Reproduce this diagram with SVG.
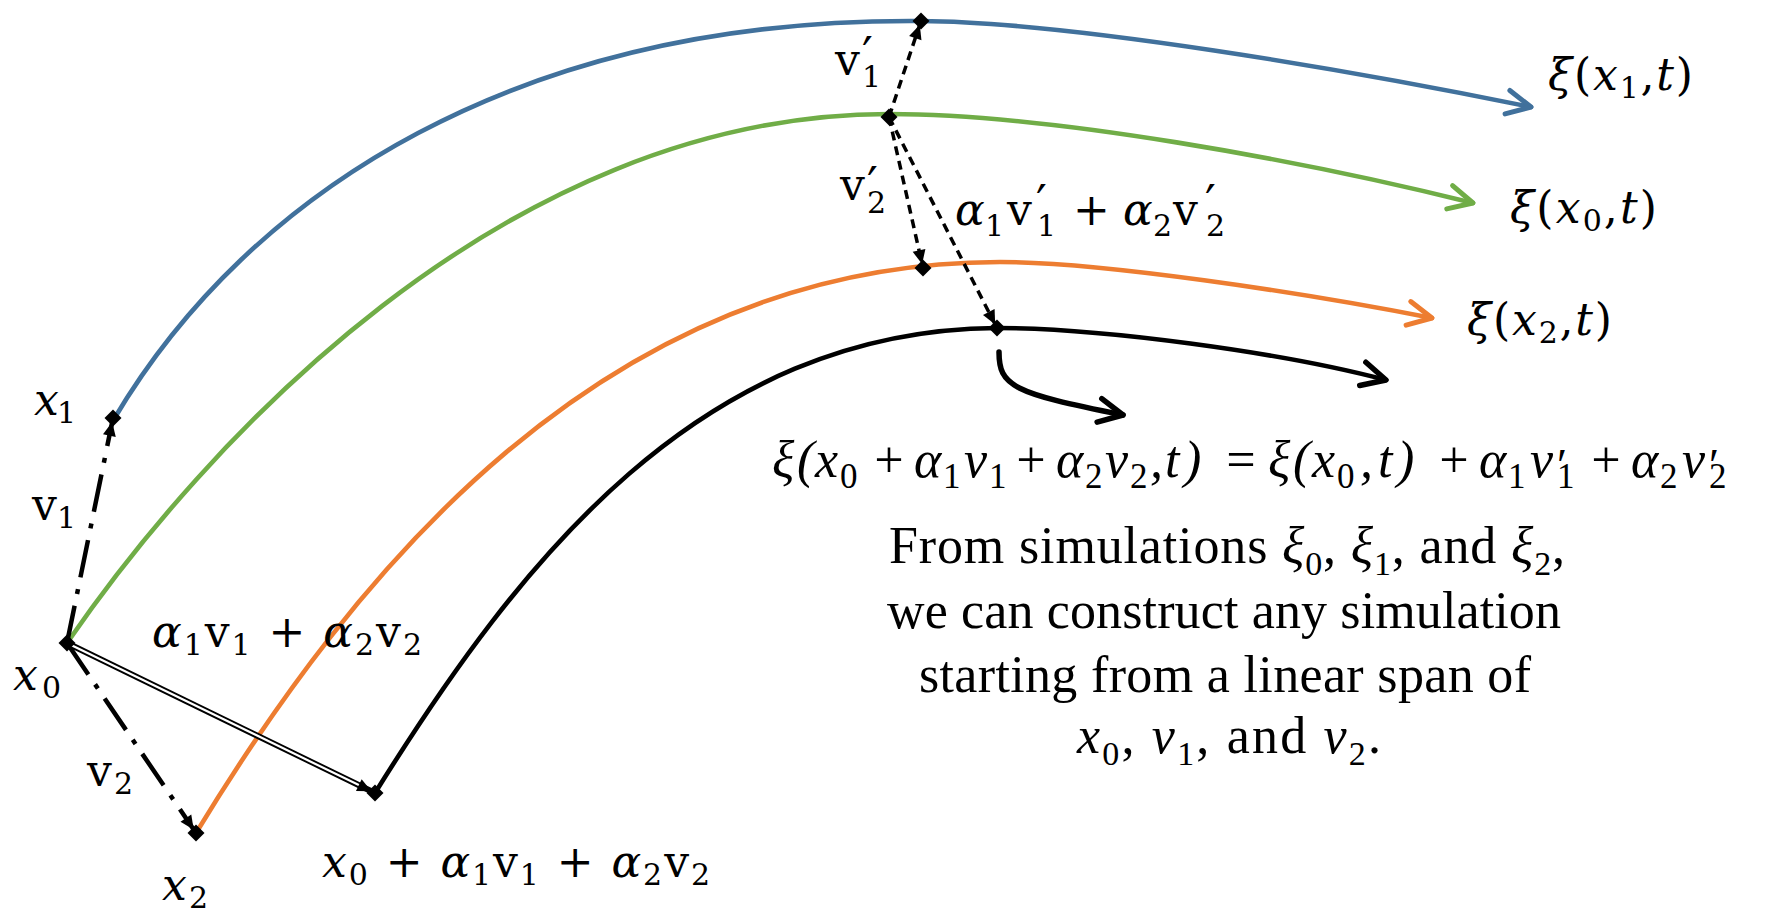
<svg xmlns="http://www.w3.org/2000/svg" width="1768" height="923" viewBox="0 0 1768 923">
<defs>
<style>
.m{font-family:"DejaVu Serif",serif;font-size:44px;fill:#000}
.i{font-style:italic}
.s{font-size:30px;font-style:normal}
.p{font-size:48px;font-style:normal}
.t{font-family:"Liberation Serif",serif;font-size:52px;fill:#000}
.ts{font-size:34px;font-style:normal}
.e{font-family:"Liberation Serif",serif;font-size:52px;font-style:italic;fill:#000}
.es{font-size:35px;font-style:normal}
.ep{font-size:46px;font-style:normal}
.traj{fill:none;stroke-width:4.6;stroke-linecap:round}
.dd{fill:none;stroke:#000;stroke-width:4.5;stroke-dasharray:38 12 5 12}
.da{fill:none;stroke:#000;stroke-width:3.5;stroke-dasharray:9 6}
</style>
<marker id="ab" viewBox="-30 -16 34 32" markerWidth="34" markerHeight="32" refX="0" refY="0" orient="auto" markerUnits="userSpaceOnUse"><path d="M-24,-12 L0,0 L-24,12" fill="none" stroke="#41719C" stroke-width="5" stroke-linecap="round" stroke-linejoin="round"/></marker>
<marker id="ag" viewBox="-30 -16 34 32" markerWidth="34" markerHeight="32" refX="0" refY="0" orient="auto" markerUnits="userSpaceOnUse"><path d="M-24,-12 L0,0 L-24,12" fill="none" stroke="#70AD47" stroke-width="5" stroke-linecap="round" stroke-linejoin="round"/></marker>
<marker id="ao" viewBox="-30 -16 34 32" markerWidth="34" markerHeight="32" refX="0" refY="0" orient="auto" markerUnits="userSpaceOnUse"><path d="M-24,-12 L0,0 L-24,12" fill="none" stroke="#ED7D31" stroke-width="5" stroke-linecap="round" stroke-linejoin="round"/></marker>
<marker id="ak" viewBox="-30 -16 34 32" markerWidth="34" markerHeight="32" refX="0" refY="0" orient="auto" markerUnits="userSpaceOnUse"><path d="M-24,-12 L0,0 L-24,12" fill="none" stroke="#000" stroke-width="5.5" stroke-linecap="round" stroke-linejoin="round"/></marker>
<marker id="tri" viewBox="-16 -8 24 16" markerWidth="24" markerHeight="16" refX="4" refY="0" orient="auto" markerUnits="userSpaceOnUse"><path d="M-14,-6.5 L0,0 L-14,6.5 Z" fill="#000"/></marker>
<path id="dia" d="M0,-8.5 L8.5,0 L0,8.5 L-8.5,0 Z" fill="#000"/>
</defs>
<rect width="1768" height="923" fill="#fff"/>

<g id="connectors">
  <path class="traj" stroke="#41719C" marker-end="url(#ab)" d="M114,419 C250,190 520,18 921,21 C1070,22 1350,70 1531,107"/>
  <path class="traj" stroke="#70AD47" marker-end="url(#ag)" d="M67,643 C200,450 500,114 889,114 C1050,114 1300,160 1473,203"/>
  <path class="traj" stroke="#ED7D31" marker-end="url(#ao)" d="M196,833 C350,580 600,262 1000,262 C1100,262 1300,292 1432,318"/>
  <path class="traj" stroke="#000" stroke-width="5" marker-end="url(#ak)" d="M375,793 C520,560 700,330 997,328 C1100,328 1280,352 1386,380"/>
  <path fill="none" stroke="#000" stroke-width="5.5" stroke-linecap="round" marker-end="url(#ak)" d="M999,352 C999,386 1012,393 1123,415"/>
  <path class="dd" marker-end="url(#tri)" d="M67,643 L113,418"/>
  <path class="dd" marker-end="url(#tri)" d="M67,643 L196,833"/>
  <path fill="none" stroke="#000" stroke-width="6" marker-end="url(#tri)" d="M67,643 L375,793"/>
  <path fill="none" stroke="#fff" stroke-width="2.2" d="M69,644 L358.8,785.1"/>
  <path class="da" marker-end="url(#tri)" d="M889,117 L921,21"/>
  <path class="da" marker-end="url(#tri)" d="M889,117 L923,268"/>
  <path class="da" marker-end="url(#tri)" d="M889,117 L997,328"/>
  <text class="m" x="32" y="520" textLength="44">v<tspan class="s" dy="8">1</tspan></text>
  <text class="m" x="87" y="786" textLength="46">v<tspan class="s" dy="8">2</tspan></text>
  <text class="m" x="152" y="647" textLength="270"><tspan class="i">α</tspan><tspan class="s" dy="8">1</tspan><tspan dy="-8">v</tspan><tspan class="s" dy="8">1</tspan><tspan dy="-8"> + </tspan><tspan class="i">α</tspan><tspan class="s" dy="8">2</tspan><tspan dy="-8">v</tspan><tspan class="s" dy="8">2</tspan></text>
  <text class="m"><tspan x="835" y="75">v</tspan><tspan class="p" x="862" y="72">′</tspan><tspan class="s" x="862" y="87">1</tspan></text>
  <text class="m"><tspan x="840" y="200">v</tspan><tspan class="p" x="867" y="202">′</tspan><tspan class="s" x="867" y="213">2</tspan></text>
  <text class="m"><tspan class="i" x="955" y="225">α</tspan><tspan class="s" x="985" y="236">1</tspan><tspan x="1007" y="225">v</tspan><tspan class="p" x="1036" y="220">′</tspan><tspan class="s" x="1037" y="236">1</tspan><tspan x="1073" y="225">+</tspan><tspan class="i" x="1123" y="225">α</tspan><tspan class="s" x="1153" y="236">2</tspan><tspan x="1173" y="225">v</tspan><tspan class="p" x="1205" y="220">′</tspan><tspan class="s" x="1206" y="236">2</tspan></text>
</g>

<g id="node-x1">
  <use href="#dia" x="113" y="418"/>
  <text class="m" x="34" y="415" textLength="42"><tspan class="i">x</tspan><tspan class="s" dy="8">1</tspan></text>
</g>
<g id="node-x0">
  <use href="#dia" x="67" y="643"/>
  <text class="m" x="13" y="690" textLength="48"><tspan class="i">x</tspan><tspan class="s" dy="8">0</tspan></text>
</g>
<g id="node-x2">
  <use href="#dia" x="196" y="833"/>
  <text class="m" x="162" y="900" textLength="46"><tspan class="i">x</tspan><tspan class="s" dy="8">2</tspan></text>
</g>
<g id="node-xsum">
  <use href="#dia" x="375" y="793"/>
  <text class="m" x="322" y="877" textLength="388"><tspan class="i">x</tspan><tspan class="s" dy="8">0</tspan><tspan dy="-8"> + </tspan><tspan class="i">α</tspan><tspan class="s" dy="8">1</tspan><tspan dy="-8">v</tspan><tspan class="s" dy="8">1</tspan><tspan dy="-8"> + </tspan><tspan class="i">α</tspan><tspan class="s" dy="8">2</tspan><tspan dy="-8">v</tspan><tspan class="s" dy="8">2</tspan></text>
</g>
<g id="node-blue-t">
  <use href="#dia" x="921" y="21"/>
</g>
<g id="node-green-t">
  <use href="#dia" x="889" y="117"/>
</g>
<g id="node-orange-t">
  <use href="#dia" x="923" y="268"/>
</g>
<g id="node-black-t">
  <use href="#dia" x="997" y="328"/>
</g>
<g id="label-xi1">
  <text class="m" x="1548" y="90" textLength="145"><tspan class="i">ξ</tspan>(<tspan class="i">x</tspan><tspan class="s" dy="8">1</tspan><tspan dy="-8">,</tspan><tspan class="i">t</tspan>)</text>
</g>
<g id="label-xi0">
  <text class="m" x="1510" y="223" textLength="147"><tspan class="i">ξ</tspan>(<tspan class="i">x</tspan><tspan class="s" dy="8">0</tspan><tspan dy="-8">,</tspan><tspan class="i">t</tspan>)</text>
</g>
<g id="label-xi2">
  <text class="m" x="1467" y="335" textLength="145"><tspan class="i">ξ</tspan>(<tspan class="i">x</tspan><tspan class="s" dy="8">2</tspan><tspan dy="-8">,</tspan><tspan class="i">t</tspan>)</text>
</g>

<g id="equation">
  <text class="e"><tspan x="772" y="477">ξ</tspan><tspan x="797" y="477">(</tspan><tspan x="815" y="477">x</tspan><tspan class="es" x="840" y="488">0</tspan><tspan x="871" y="477">+</tspan><tspan x="914" y="477">α</tspan><tspan class="es" x="943" y="488">1</tspan><tspan x="964" y="477">v</tspan><tspan class="es" x="989" y="488">1</tspan><tspan x="1013" y="477">+</tspan><tspan x="1056" y="477">α</tspan><tspan class="es" x="1085" y="488">2</tspan><tspan x="1105" y="477">v</tspan><tspan class="es" x="1130" y="488">2</tspan><tspan x="1150" y="477">,</tspan><tspan x="1165" y="477">t</tspan><tspan x="1184" y="477">)</tspan><tspan x="1223" y="477">=</tspan><tspan x="1268" y="477">ξ</tspan><tspan x="1293" y="477">(</tspan><tspan x="1312" y="477">x</tspan><tspan class="es" x="1337" y="488">0</tspan><tspan x="1360" y="477">,</tspan><tspan x="1378" y="477">t</tspan><tspan x="1397" y="477">)</tspan><tspan x="1436" y="477">+</tspan><tspan x="1479" y="477">α</tspan><tspan class="es" x="1508" y="488">1</tspan><tspan x="1530" y="477">v</tspan><tspan class="ep" x="1557" y="481">′</tspan><tspan class="es" x="1557" y="488">1</tspan><tspan x="1588" y="477">+</tspan><tspan x="1631" y="477">α</tspan><tspan class="es" x="1660" y="488">2</tspan><tspan x="1682" y="477">v</tspan><tspan class="ep" x="1709" y="481">′</tspan><tspan class="es" x="1709" y="488">2</tspan></text>
</g>

<g id="description">
  <text class="t" x="889" y="563" textLength="676">From simulations <tspan class="i">ξ</tspan><tspan class="ts" dy="12">0</tspan><tspan dy="-12">, </tspan><tspan class="i">ξ</tspan><tspan class="ts" dy="12">1</tspan><tspan dy="-12">, and </tspan><tspan class="i">ξ</tspan><tspan class="ts" dy="12">2</tspan><tspan dy="-12">,</tspan></text>
  <text class="t" x="887" y="628" textLength="674">we can construct any simulation</text>
  <text class="t" x="919" y="692" textLength="612">starting from a linear span of</text>
  <text class="t" x="1077" y="753" textLength="304"><tspan class="i">x</tspan><tspan class="ts" dy="12">0</tspan><tspan dy="-12">, </tspan><tspan class="i">v</tspan><tspan class="ts" dy="12">1</tspan><tspan dy="-12">, and </tspan><tspan class="i">v</tspan><tspan class="ts" dy="12">2</tspan><tspan dy="-12">.</tspan></text>
</g>
</svg>
